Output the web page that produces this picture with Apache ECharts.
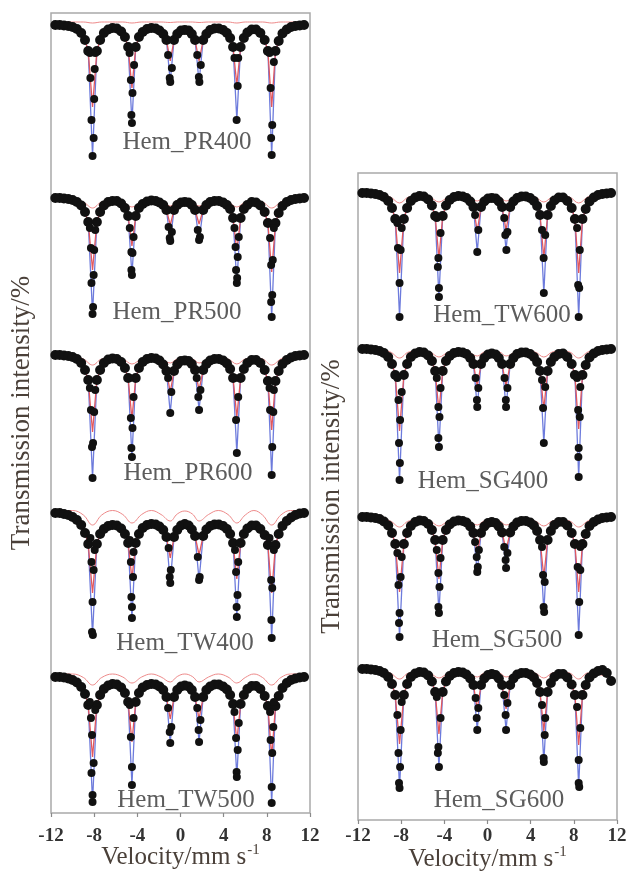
<!DOCTYPE html>
<html><head><meta charset="utf-8">
<script src="https://cdn.jsdelivr.net/npm/echarts@6/dist/echarts.min.js"></script>
<style>html,body{margin:0;padding:0;background:#fff}#c{width:630px;height:876px}</style>
</head><body><div id="c"></div>
<script>
// ---------------- DATA ----------------
const xTicks = [-12, -8, -4, 0, 4, 8, 12];
const sampleNames = ['Hem_PR400','Hem_PR500','Hem_PR600','Hem_TW400','Hem_TW500','Hem_TW600','Hem_SG400','Hem_SG500','Hem_SG600'];
// sextet line positions (mm/s)
const lineVel = [-8.15, -4.5, -0.95, 1.72, 5.22, 8.45];
// velocities of the dense continuum channels (mm/s)
const bandVel = [-11.6,-11.2,-10.8,-10.4,-10.0,-9.6,-9.2,-8.85,-8.55,
 -7.75,-7.45,-7.1,-6.7,-6.3,-5.9,-5.5,-5.15,-4.85,
 -4.15,-3.85,-3.5,-3.1,-2.7,-2.3,-1.95,-1.6,-1.3,
 -0.6,-0.3,0.05,0.4,0.75,1.05,1.35,
 2.1,2.4,2.75,3.15,3.55,3.95,4.3,4.6,4.87,
 5.57,5.87,6.2,6.6,7.0,7.4,7.8,8.1,
 8.8,9.1,9.45,9.85,10.25,10.65,11.05,11.45];
// velocities of the weak second component curve
const compVel = [-11.6,-10.0,-9.0,-8.15,-7.3,-6.3,-5.35,-4.5,-3.6,-2.7,-1.8,-0.95,-0.3,0.4,1.1,1.72,2.6,3.5,4.4,5.22,6.0,6.8,7.6,8.45,9.3,10.2,11.6];

// ---- Hem_PR400 ----
const pr400Band = [100,100,99.95,99.9,99.8,99.6,99.2,98.5,97.4,
 97.4,98.5,99.2,99.55,99.7,99.65,99.35,98.8,97.8,
 97.8,98.8,99.3,99.6,99.7,99.65,99.45,99.1,98.5,
 98.5,99.1,99.45,99.5,99.45,99.1,98.5,
 98.5,99.1,99.5,99.65,99.65,99.5,99.2,98.7,97.8,
 97.8,98.7,99.25,99.55,99.55,99.2,98.5,97.4,
 97.4,98.4,99.15,99.55,99.8,99.9,99.95,100];
const pr400Dips = [[-8.4,97.2],[-7.9,97.2],[-7.95,95.6],[-8.35,94.7],[-8.0,92.6],[-8.25,90.5],[-8.05,88.7],[-8.15,86.9],
 [-4.72,97.2],[-4.3,96.0],[-4.6,94.5],[-4.45,93.2],[-4.55,91.0],[-4.5,90.2],
 [-1.15,97.0],[-0.8,95.7],[-1.0,94.7],[-0.95,94.3],
 [1.55,97.0],[1.88,96.0],[1.7,94.8],[1.75,94.3],
 [5.0,96.7],[5.35,96.7],[5.3,93.9],[5.2,90.5],
 [8.25,97.2],[8.65,96.3],[8.35,93.7],[8.5,90.0],[8.4,88.7],[8.45,87.0]];
const pr400Blue = [86.9, 90.2, 94.3, 94.3, 90.5, 87.0];
const pr400Red = [91.8, 93.7, 96.4, 96.4, 94.0, 91.8];
const pr400Comp = [100.3,100.3,100.3,100.2,100.3,100.3,100.3,100.2,100.3,100.3,100.3,100.25,100.3,100.3,100.3,100.25,100.3,100.3,100.3,100.2,100.3,100.3,100.3,100.2,100.3,100.3,100.3];

// ---- Hem_PR500 ----
const pr500Band = [100,100,99.95,99.9,99.8,99.6,99.25,98.6,97.6,
 97.6,98.6,99.25,99.6,99.7,99.7,99.45,99.0,98.2,
 98.2,99.0,99.4,99.65,99.75,99.7,99.55,99.3,98.8,
 98.8,99.3,99.55,99.6,99.55,99.3,98.8,
 98.8,99.3,99.6,99.7,99.7,99.55,99.3,98.9,98.0,
 98.0,98.9,99.3,99.6,99.55,99.25,98.6,97.5,
 97.5,98.5,99.2,99.6,99.8,99.9,99.95,100];
const pr500Dips = [[-8.4,97.0],[-7.9,96.8],[-8.3,95.0],[-8.0,94.8],[-8.05,92.3],[-8.25,91.5],[-8.1,89.1],[-8.15,88.4],
 [-4.7,97.0],[-4.35,96.1],[-4.55,94.6],[-4.45,94.5],[-4.55,92.8],[-4.5,92.3],
 [-1.1,97.1],[-0.8,96.6],[-1.0,96.0],[-0.95,95.7],
 [1.6,96.8],[1.8,96.1],[1.72,95.8],
 [5.0,97.0],[5.4,96.1],[5.1,95.1],[5.3,94.1],[5.15,92.8],[5.25,92.0],[5.22,91.5],
 [8.65,97.0],[8.3,96.0],[8.55,93.8],[8.4,93.3],[8.5,90.3],[8.4,89.6],[8.45,88.1]];
const pr500Blue = [88.4, 92.3, 95.7, 95.8, 91.5, 88.1];
const pr500Red = [92.8, 95.2, 97.3, 97.4, 94.7, 92.6];
const pr500Comp = [99.9,99.85,99.6,99.0,99.6,99.7,99.6,99.1,99.6,99.7,99.6,99.2,99.6,99.65,99.6,99.2,99.6,99.7,99.6,99.1,99.6,99.7,99.6,99.0,99.6,99.85,99.9];

// ---- Hem_PR600 ----
const pr600Band = [100,100,99.95,99.9,99.8,99.6,99.2,98.5,97.5,
 97.5,98.5,99.2,99.55,99.65,99.6,99.3,98.7,97.7,
 97.7,98.7,99.3,99.6,99.7,99.65,99.45,99.05,98.4,
 98.4,99.05,99.4,99.45,99.4,99.1,98.5,
 98.5,99.1,99.45,99.6,99.6,99.45,99.15,98.6,97.7,
 97.7,98.6,99.2,99.5,99.5,99.2,98.5,97.4,
 97.4,98.4,99.1,99.5,99.75,99.9,99.95,100];
const pr600Dips = [[-8.4,96.7],[-7.9,96.5],[-8.3,94.5],[-8.0,94.3],[-8.1,91.2],[-8.2,90.8],[-8.15,87.7],
 [-4.75,97.7],[-4.35,95.8],[-4.6,93.7],[-4.45,92.7],[-4.55,90.7],[-4.5,89.8],
 [-1.15,97.7],[-0.85,96.3],[-0.95,94.2],
 [1.5,97.7],[1.85,96.5],[1.65,95.8],[1.72,94.5],
 [5.0,97.7],[5.35,95.8],[5.15,93.5],[5.22,90.2],
 [8.25,96.7],[8.65,96.5],[8.3,94.5],[8.6,94.3],[8.5,90.8],[8.45,88.0]];
const pr600Blue = [87.7, 89.8, 94.2, 94.5, 90.2, 88.0];
const pr600Red = [92.3, 93.6, 96.3, 96.5, 93.8, 92.5];
const pr600Comp = [99.9,99.85,99.6,99.0,99.6,99.7,99.6,99.1,99.6,99.7,99.6,99.2,99.6,99.65,99.6,99.2,99.6,99.7,99.6,99.1,99.6,99.7,99.6,99.0,99.6,99.85,99.9];

// ---- Hem_TW400 ----
const tw400Band = [100,100,99.9,99.8,99.6,99.3,98.8,98.0,96.9,
 96.9,97.9,98.4,98.7,98.8,98.75,98.45,97.9,97.0,
 97.0,97.9,98.5,98.8,98.9,98.85,98.65,98.3,97.6,
 97.6,98.3,98.75,98.9,98.75,98.35,97.7,
 97.7,98.35,98.7,98.85,98.85,98.7,98.4,97.9,97.0,
 97.0,97.9,98.45,98.75,98.75,98.4,97.8,96.8,
 96.8,97.9,98.7,99.2,99.55,99.8,99.95,100];
const tw400Dips = [[-8.35,97.5],[-7.95,96.3],[-8.25,95.1],[-8.05,94.3],[-8.15,91.1],[-8.2,88.1],[-8.12,87.8],
 [-4.7,97.3],[-4.35,96.1],[-4.6,95.1],[-4.4,93.6],[-4.55,91.6],[-4.5,90.6],[-4.5,89.5],
 [-1.1,96.5],[-0.9,94.3],[-1.0,93.6],[-0.95,93.0],
 [1.6,95.6],[1.78,93.6],[1.72,93.3],
 [5.05,96.3],[5.35,95.1],[5.15,94.1],[5.28,91.8],[5.2,90.6],[5.22,89.6],
 [8.25,97.5],[8.65,96.3],[8.4,93.3],[8.5,92.5],[8.42,89.3],[8.45,87.5]];
const tw400Blue = [87.8, 89.5, 93.0, 93.3, 89.6, 87.5];
const tw400Red = [92.0, 93.4, 95.5, 95.8, 93.4, 92.0];
const tw400Comp = [100.25,100.25,99.8,98.8,99.8,100.25,99.85,99.0,99.85,100.25,99.85,99.2,99.9,100.2,99.9,99.2,99.85,100.25,99.85,99.0,99.8,100.25,99.8,98.8,99.8,100.25,100.25];

// ---- Hem_TW500 ----
const tw500Band = [100,100,99.95,99.85,99.7,99.45,99.0,98.3,97.2,
 97.2,98.2,98.8,99.15,99.3,99.25,98.95,98.4,97.5,
 97.5,98.4,98.95,99.2,99.3,99.25,99.05,98.7,98.0,
 98.0,98.7,99.05,99.15,99.05,98.7,98.0,
 98.0,98.7,99.05,99.25,99.25,99.05,98.75,98.2,97.3,
 97.3,98.2,98.8,99.1,99.1,98.8,98.1,97.1,
 97.1,98.1,98.9,99.4,99.7,99.85,99.95,100];
const tw500Dips = [[-8.4,97.5],[-7.9,96.7],[-8.3,95.9],[-8.2,94.2],[-8.05,91.4],[-8.25,90.4],[-8.15,88.2],[-8.15,87.5],
 [-4.7,97.2],[-4.35,95.9],[-4.6,94.0],[-4.5,91.0],[-4.5,89.2],
 [-1.15,96.9],[-0.85,95.0],[-1.0,94.5],[-0.95,93.4],
 [1.55,96.9],[1.85,95.7],[1.68,94.7],[1.72,93.5],
 [5.0,96.5],[5.4,95.4],[5.15,93.9],[5.3,92.7],[5.2,90.5],[5.22,90.0],
 [8.65,97.5],[8.3,96.5],[8.6,95.0],[8.35,93.7],[8.5,92.4],[8.45,89.0],[8.45,87.4]];
const tw500Blue = [87.5, 89.2, 93.4, 93.5, 90.0, 87.4];
const tw500Red = [92.0, 93.5, 95.8, 95.8, 93.6, 92.0];
const tw500Comp = [100.3,100.3,99.95,99.2,99.95,100.3,100.0,99.4,100.0,100.3,100.0,99.5,100.05,100.3,100.05,99.5,100.0,100.3,100.0,99.4,99.95,100.3,99.95,99.2,99.95,100.3,100.3];

// ---- Hem_TW600 ----
const tw600Band = [100,100,99.95,99.9,99.8,99.6,99.2,98.5,97.4,
 97.4,98.5,99.2,99.55,99.7,99.65,99.35,98.75,97.7,
 97.7,98.75,99.3,99.6,99.7,99.65,99.5,99.15,98.6,
 98.6,99.15,99.45,99.5,99.45,99.15,98.6,
 98.6,99.15,99.5,99.65,99.65,99.5,99.2,98.7,97.8,
 97.8,98.7,99.25,99.55,99.55,99.2,98.5,97.4,
 97.4,98.4,99.15,99.55,99.8,99.9,99.95,100];
const tw600Dips = [[-8.35,97.0],[-7.95,96.5],[-8.3,94.5],[-8.05,94.3],[-8.15,91.0],[-8.15,87.6],
 [-4.7,97.5],[-4.35,96.0],[-4.55,93.5],[-4.6,92.6],[-4.5,90.5],[-4.5,89.6],
 [-1.15,97.8],[-0.85,96.3],[-0.95,94.1],
 [1.55,97.5],[1.85,96.1],[1.65,95.8],[1.75,94.3],
 [5.05,96.3],[5.35,95.8],[5.2,93.5],[5.22,90.0],
 [8.3,96.5],[8.55,94.3],[8.4,90.8],[8.5,90.5],[8.45,87.6]];
const tw600Blue = [87.6, 89.6, 94.1, 94.3, 90.0, 87.6];
const tw600Red = [92.0, 93.5, 96.2, 96.3, 93.5, 92.0];
const tw600Comp = [99.9,99.85,99.6,99.0,99.6,99.7,99.6,99.1,99.6,99.7,99.6,99.2,99.6,99.65,99.6,99.2,99.6,99.7,99.6,99.1,99.6,99.7,99.6,99.0,99.6,99.85,99.9];

// ---- Hem_SG400 ----
const sg400Band = [100,100,99.95,99.9,99.8,99.6,99.2,98.5,97.4,
 97.4,98.5,99.2,99.55,99.7,99.65,99.35,98.8,97.8,
 97.8,98.8,99.3,99.6,99.7,99.65,99.5,99.1,98.5,
 98.5,99.1,99.45,99.55,99.45,99.1,98.5,
 98.5,99.1,99.5,99.65,99.65,99.5,99.2,98.7,97.8,
 97.8,98.7,99.2,99.5,99.55,99.2,98.5,97.4,
 97.4,98.4,99.15,99.55,99.8,99.9,99.95,100];
const sg400Dips = [[-8.35,97.1],[-7.95,95.7],[-8.25,94.9],[-8.1,92.9],[-8.2,90.6],[-8.12,88.6],[-8.15,86.9],
 [-4.7,97.1],[-4.35,96.1],[-4.55,94.2],[-4.45,93.2],[-4.55,91.1],[-4.5,90.2],
 [-1.1,97.1],[-0.85,96.1],[-0.98,94.9],[-0.95,94.2],
 [1.58,97.1],[1.85,96.1],[1.7,94.9],[1.72,94.2],
 [5.05,96.9],[5.35,96.2],[5.15,94.1],[5.22,90.6],
 [8.3,97.1],[8.6,96.2],[8.4,93.9],[8.55,93.2],[8.45,90.1],[8.42,89.2],[8.45,87.2]];
const sg400Blue = [86.9, 90.2, 94.2, 94.2, 90.6, 87.2];
const sg400Red = [91.8, 93.8, 96.3, 96.3, 94.0, 92.0];
const sg400Comp = [99.95,99.9,99.7,99.1,99.7,99.8,99.7,99.2,99.7,99.8,99.7,99.3,99.7,99.75,99.7,99.3,99.7,99.8,99.7,99.2,99.7,99.8,99.7,99.1,99.7,99.9,99.95];

// ---- Hem_SG500 ----
const sg500Band = [100,100,99.95,99.9,99.8,99.55,99.15,98.4,97.3,
 97.3,98.4,99.1,99.5,99.65,99.6,99.3,98.7,97.7,
 97.7,98.7,99.25,99.55,99.65,99.6,99.45,99.05,98.4,
 98.4,99.05,99.4,99.5,99.4,99.05,98.45,
 98.45,99.05,99.45,99.6,99.6,99.45,99.15,98.6,97.7,
 97.7,98.6,99.2,99.5,99.5,99.15,98.4,97.3,
 97.3,98.3,99.1,99.5,99.75,99.9,99.95,100];
const sg500Dips = [[-8.35,96.4],[-7.95,96.0],[-8.05,94.0],[-8.25,93.2],[-8.15,90.4],[-8.2,89.4],[-8.15,88.0],
 [-4.7,96.7],[-4.35,95.9],[-4.55,94.4],[-4.45,93.0],[-4.55,91.0],[-4.5,90.4],
 [-1.15,97.5],[-0.8,96.7],[-1.0,96.0],[-0.9,95.0],[-0.95,94.5],
 [1.55,97.0],[1.85,96.4],[1.68,95.7],[1.72,94.9],
 [5.05,97.0],[5.15,94.2],[5.3,93.5],[5.2,91.0],[5.25,90.5],
 [8.6,97.0],[8.35,95.0],[8.6,94.7],[8.5,91.5],[8.45,88.2]];
const sg500Blue = [88.0, 90.4, 94.5, 94.9, 90.5, 88.2];
const sg500Red = [92.5, 93.8, 96.4, 96.7, 94.0, 92.5];
const sg500Comp = [99.9,99.85,99.6,99.0,99.6,99.7,99.6,99.1,99.6,99.7,99.6,99.2,99.6,99.65,99.6,99.2,99.6,99.7,99.6,99.1,99.6,99.7,99.6,99.0,99.6,99.85,99.9];

// ---- Hem_SG600 ----
const sg600Band = [100,100,99.95,99.9,99.8,99.6,99.2,98.5,97.4,
 97.4,98.5,99.2,99.55,99.7,99.65,99.35,98.75,97.7,
 97.7,98.75,99.3,99.6,99.7,99.65,99.45,99.05,98.4,
 98.4,99.05,99.4,99.5,99.4,99.05,98.4,
 98.4,99.05,99.45,99.6,99.6,99.45,99.15,98.6,97.7,
 97.7,98.6,99.2,99.5,99.5,99.15,98.45,97.4,
 97.4,98.4,99.15,99.55,99.8,99.9,99.6,98.8];
const sg600Dips = [[-7.95,96.7],[-8.35,95.4],[-8.05,93.9],[-8.25,91.6],[-8.1,90.2],[-8.2,88.6],[-8.15,88.1],
 [-4.7,97.2],[-4.35,95.1],[-4.55,92.2],[-4.6,91.6],[-4.5,90.2],
 [-1.1,97.1],[-0.85,96.1],[-1.0,95.1],[-0.95,93.9],
 [1.55,97.4],[1.85,96.6],[1.68,95.4],[1.72,93.9],
 [5.05,96.4],[5.35,95.1],[5.3,93.4],[5.2,91.1],[5.22,90.7],
 [8.3,96.2],[8.6,94.1],[8.45,90.9],[8.45,88.6],[8.5,88.2]];
const sg600Blue = [88.1, 90.2, 93.9, 93.9, 90.7, 88.2];
const sg600Red = [92.5, 93.5, 96.0, 96.0, 93.8, 92.4];
const sg600Comp = [99.9,99.85,99.6,99.0,99.6,99.7,99.6,99.1,99.6,99.7,99.6,99.2,99.6,99.65,99.6,99.2,99.6,99.7,99.6,99.1,99.6,99.7,99.6,99.0,99.6,99.5,99.0];

// ---------------- LAYOUT ----------------
const SERIF = '"Liberation Serif","Times New Roman",serif';
const panels = [
  {left: 51, top: 13, width: 259, height: 800, labelMargin: 14, nameGap: 30, yNameGap: 16},
  {left: 358, top: 173, width: 259, height: 647, labelMargin: 7, nameGap: 25, yNameGap: 13}
];
// base = pixel row of 100% transmission for each stacked spectrum; lx/ly = sample label position
const stack = [
  {panel: 0, base: 25,  lx: 187, ly: 142},
  {panel: 0, base: 198, lx: 177, ly: 312},
  {panel: 0, base: 355, lx: 188, ly: 473},
  {panel: 0, base: 513, lx: 185, ly: 643},
  {panel: 0, base: 677, lx: 186, ly: 800},
  {panel: 1, base: 193, lx: 502, ly: 315},
  {panel: 1, base: 349, lx: 483, ly: 481},
  {panel: 1, base: 517, lx: 497, ly: 640},
  {panel: 1, base: 669, lx: 499, ly: 800}
];
const bands = [pr400Band, pr500Band, pr600Band, tw400Band, tw500Band, tw600Band, sg400Band, sg500Band, sg600Band];
const dips  = [pr400Dips, pr500Dips, pr600Dips, tw400Dips, tw500Dips, tw600Dips, sg400Dips, sg500Dips, sg600Dips];
const blues = [pr400Blue, pr500Blue, pr600Blue, tw400Blue, tw500Blue, tw600Blue, sg400Blue, sg500Blue, sg600Blue];
const reds  = [pr400Red, pr500Red, pr600Red, tw400Red, tw500Red, tw600Red, sg400Red, sg500Red, sg600Red];
const comps = [pr400Comp, pr500Comp, pr600Comp, tw400Comp, tw500Comp, tw600Comp, sg400Comp, sg500Comp, sg600Comp];

const Y_MAX = 101, Y_MIN = 85, PX_PER_PCT = 10;

const grid = [], xAxis = [], yAxis = [], series = [], graphic = [];

panels.forEach((p, i) => {
  grid.push({left: p.left, top: p.top, width: p.width, height: p.height, show: true,
    borderColor: '#a9a9a9', borderWidth: 1.5, backgroundColor: 'transparent',
    containLabel: false, outerBoundsMode: 'none'});
  xAxis.push({gridIndex: i, type: 'value', min: xTicks[0], max: xTicks[xTicks.length - 1], interval: 4,
    axisLine: {show: false},
    axisTick: {show: true, inside: false, length: 4, lineStyle: {color: '#8a8a8a', width: 1.2}},
    splitLine: {show: false},
    axisLabel: {show: true, margin: p.labelMargin, fontFamily: SERIF, fontWeight: 'bold', fontSize: 19, color: '#333'},
    name: '{a|Velocity/mm s}{b|-1}', nameLocation: 'middle', nameGap: p.nameGap, nameMoveOverlap: false,
    nameTextStyle: {rich: {
      a: {fontFamily: SERIF, fontSize: 25, color: '#4a4039'},
      b: {fontFamily: SERIF, fontSize: 15, color: '#4a4039', padding: [0, 0, 14, 1]}
    }}
  });
  yAxis.push({gridIndex: i, type: 'value', min: 0, max: 1, show: true,
    axisLine: {show: false}, axisTick: {show: false}, axisLabel: {show: false}, splitLine: {show: false},
    name: 'Transmission intensity/%', nameLocation: 'middle', nameGap: p.yNameGap, nameMoveOverlap: false,
    nameTextStyle: {fontFamily: SERIF, fontSize: 27, color: '#4a4039'}
  });
});

stack.forEach((s, k) => {
  const p = panels[s.panel];
  const gi = 2 + k;
  grid.push({left: p.left, width: p.width, top: s.base - (Y_MAX - 100) * PX_PER_PCT,
    height: (Y_MAX - Y_MIN) * PX_PER_PCT, show: false, containLabel: false, outerBoundsMode: 'none'});
  xAxis.push({gridIndex: gi, type: 'value', min: -12, max: 12, show: false});
  yAxis.push({gridIndex: gi, type: 'value', min: Y_MIN, max: Y_MAX, show: false});

  const bandPts = bandVel.map((v, j) => [v, bands[k][j]]);
  const fitWith = mins => bandPts.concat(lineVel.map((v, j) => [v, mins[j]])).sort((a, b) => a[0] - b[0]);

  series.push({type: 'line', xAxisIndex: gi, yAxisIndex: gi, data: fitWith(blues[k]),
    symbol: 'none', lineStyle: {color: '#6d7bdc', width: 1.3}, z: 2, silent: true, animation: false});
  series.push({type: 'line', xAxisIndex: gi, yAxisIndex: gi, data: fitWith(reds[k]),
    symbol: 'none', lineStyle: {color: '#e2585e', width: 1.3}, z: 3, silent: true, animation: false});
  series.push({type: 'line', xAxisIndex: gi, yAxisIndex: gi, data: compVel.map((v, j) => [v, comps[k][j]]),
    symbol: 'none', smooth: 0.4, lineStyle: {color: '#ee8a8a', width: 1}, z: 3, silent: true, animation: false});
  series.push({type: 'scatter', xAxisIndex: gi, yAxisIndex: gi, data: bandPts,
    symbolSize: 10, itemStyle: {color: '#111', opacity: 1}, z: 4, silent: true, animation: false});
  series.push({type: 'scatter', xAxisIndex: gi, yAxisIndex: gi, data: dips[k],
    symbolSize: 8, itemStyle: {color: '#111', opacity: 1}, z: 4, silent: true, animation: false});

  graphic.push({type: 'text', x: s.lx, y: s.ly, z: 10, silent: true,
    style: {text: sampleNames[k], fontFamily: SERIF, fontSize: 25, fill: '#5c5c5c',
      textAlign: 'center', textVerticalAlign: 'middle'}});
});

const chart = echarts.init(document.getElementById('c'), null, {renderer: 'canvas'});
chart.setOption({
  animation: false,
  backgroundColor: '#ffffff',
  grid, xAxis, yAxis, series, graphic
});
</script></body></html>
